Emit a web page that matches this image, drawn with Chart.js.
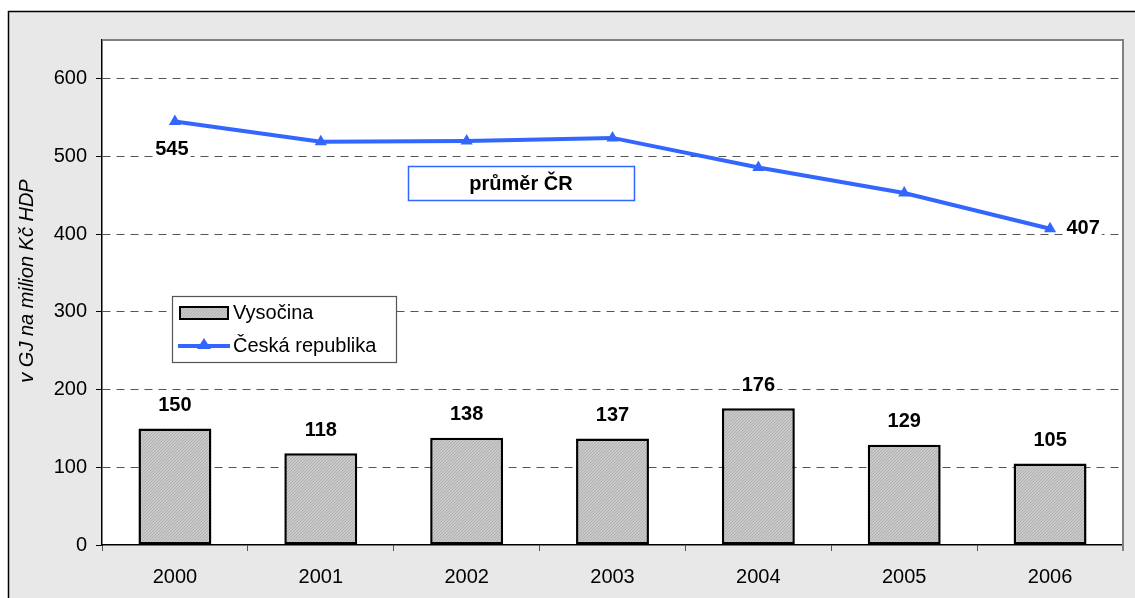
<!DOCTYPE html>
<html>
<head>
<meta charset="utf-8">
<script src="https://cdn.jsdelivr.net/npm/chart.js@4/dist/chart.umd.min.js"></script>
<style>
  html, body { margin: 0; padding: 0; background: #fff; }
  #wrap { width: 1135px; height: 598px; position: relative; }
</style>
</head>
<body>
<div id="wrap"><canvas id="chart"></canvas></div>
<script>
// Data
const years = ['2000', '2001', '2002', '2003', '2004', '2005', '2006'];
const vysocina = [150, 118, 138, 137, 176, 129, 105];
const ceskaRepublika = [545, 519, 520, 524, 486, 453, 407];
const yTicks = [0, 100, 200, 300, 400, 500, 600];
// only first and last point of the line carry a label
const lineLabelIdx = [0, 6];

const FONT = "'Liberation Sans', Arial, sans-serif";
const BLUE = '#3366ff';

// hatched grey fill for bars
function makePattern() {
  const p = document.createElement('canvas');
  p.width = 3; p.height = 3;
  const c = p.getContext('2d');
  c.fillStyle = '#c9c9c9';
  c.fillRect(0, 0, 3, 3);
  c.fillStyle = '#b0b0b0';
  for (let i = 0; i < 3; i++) c.fillRect(i, 2 - i, 1, 1);
  return c.createPattern(p, 'repeat');
}

// label with white background
function boxLabel(c, text, x, y) {
  c.font = 'bold 20px ' + FONT;
  const w = c.measureText(text).width;
  c.fillStyle = '#fff';
  c.fillRect(x - w / 2 - 2, y - 11, w + 4, 22);
  c.fillStyle = '#000';
  c.textAlign = 'center';
  c.textBaseline = 'middle';
  c.fillText(text, x, y);
}

const framePlugin = {
  id: 'frame',
  beforeDraw(chart) {
    const c = chart.ctx;
    const a = chart.chartArea;
    c.save();
    c.fillStyle = '#fff';
    c.fillRect(0, 0, chart.width, chart.height);
    c.fillStyle = '#e8e8e8';
    c.fillRect(8, 11, chart.width, chart.height);
    c.strokeStyle = '#000';
    c.lineWidth = 1.5;
    c.strokeRect(8.5, 11.5, chart.width + 10, chart.height + 10);
    c.fillStyle = '#fff';
    c.fillRect(a.left, a.top, a.right - a.left, a.bottom - a.top);
    // axis title
    c.translate(27, 281);
    c.rotate(-Math.PI / 2);
    c.font = 'italic 20px ' + FONT;
    c.fillStyle = '#000';
    c.textAlign = 'center';
    c.textBaseline = 'middle';
    c.fillText('v GJ na milion Kč HDP', 0, 0);
    c.restore();
  },
  beforeDatasetsDraw(chart) {
    const c = chart.ctx;
    const a = chart.chartArea;
    c.save();
    c.strokeStyle = '#808080';
    c.lineWidth = 2;
    c.beginPath();
    c.moveTo(a.left, a.top);
    c.lineTo(a.right, a.top);
    c.lineTo(a.right, a.bottom + 6);
    c.stroke();
    c.restore();
  },
  afterDatasetsDraw(chart) {
    const c = chart.ctx;
    c.save();
    const bars = chart.getDatasetMeta(0).data;
    bars.forEach((b, i) => boxLabel(c, String(vysocina[i]), b.x, b.y - 23));
    const pts = chart.getDatasetMeta(1).data;
    boxLabel(c, String(ceskaRepublika[lineLabelIdx[0]]), pts[lineLabelIdx[0]].x - 3, pts[lineLabelIdx[0]].y + 28);
    boxLabel(c, String(ceskaRepublika[lineLabelIdx[1]]), pts[lineLabelIdx[1]].x + 33, pts[lineLabelIdx[1]].y);
    c.restore();
  },
  afterDraw(chart) {
    const c = chart.ctx;
    c.save();
    // "průměr ČR" note
    c.fillStyle = '#fff';
    c.fillRect(408, 166, 226, 34);
    c.strokeStyle = BLUE;
    c.lineWidth = 1.5;
    c.strokeRect(408.5, 166.5, 226, 34);
    c.fillStyle = '#000';
    c.font = 'bold 20px ' + FONT;
    c.textAlign = 'center';
    c.textBaseline = 'middle';
    c.fillText('průměr ČR', 521, 184);

    // legend
    c.fillStyle = '#fff';
    c.fillRect(172, 296, 224, 66);
    c.strokeStyle = '#555';
    c.lineWidth = 1.2;
    c.strokeRect(172.5, 296.5, 224, 66);
    c.fillStyle = chart.data.datasets[0].backgroundColor;
    c.fillRect(180, 307, 48, 12);
    c.strokeStyle = '#000';
    c.lineWidth = 2;
    c.strokeRect(180, 307, 48, 12);
    c.strokeStyle = BLUE;
    c.lineWidth = 4;
    c.beginPath();
    c.moveTo(178, 346);
    c.lineTo(230, 346);
    c.stroke();
    c.fillStyle = BLUE;
    c.beginPath();
    c.moveTo(204, 338);
    c.lineTo(211, 349);
    c.lineTo(197, 349);
    c.closePath();
    c.fill();
    c.fillStyle = '#000';
    c.font = '20px ' + FONT;
    c.textAlign = 'left';
    c.textBaseline = 'middle';
    c.fillText(chart.data.datasets[0].label, 233, 313);
    c.fillText(chart.data.datasets[1].label, 233, 346);
    c.restore();
  }
};

const ctx = document.getElementById('chart').getContext('2d');
new Chart(ctx, {
  type: 'bar',
  data: {
    labels: years,
    datasets: [
      {
        type: 'bar',
        label: 'Vysočina',
        data: vysocina,
        backgroundColor: makePattern(),
        borderColor: '#000',
        borderWidth: 2.5,
        borderSkipped: false,
        barPercentage: 0.5,
        categoryPercentage: 1,
        order: 2
      },
      {
        type: 'line',
        label: 'Česká republika',
        data: ceskaRepublika,
        borderColor: BLUE,
        backgroundColor: BLUE,
        borderWidth: 4,
        pointStyle: 'triangle',
        pointRadius: 7,
        pointBorderWidth: 0,
        pointBackgroundColor: BLUE,
        tension: 0,
        order: 1
      }
    ]
  },
  options: {
    responsive: true,
    maintainAspectRatio: false,
    animation: false,
    layout: { padding: { left: 8, top: 40, right: 12, bottom: 0 } },
    plugins: {
      legend: { display: false },
      tooltip: { enabled: false }
    },
    scales: {
      x: {
        offset: true,
        grid: {
          drawOnChartArea: false,
          tickLength: 6,
          tickColor: '#555',
          offset: true
        },
        border: { color: '#000', width: 1.5 },
        ticks: { color: '#000', font: { family: FONT, size: 20 }, padding: 14 },
        afterFit(scale) { scale.height = 53; }
      },
      y: {
        min: 0,
        max: 650,
        afterBuildTicks(scale) {
          scale.ticks = yTicks.map(v => ({ value: v }));
        },
        grid: {
          color: ctx => (ctx.tick && ctx.tick.value === 0 ? 'transparent' : '#555'),
          tickBorderDash: [],
          tickColor: '#000',
          tickLength: 6,
          lineWidth: 1
        },
        border: { color: '#000', width: 1.5, dash: [8, 6] },
        ticks: { color: '#000', font: { family: FONT, size: 20 }, padding: 9 },
        afterFit(scale) { scale.width = 94; }
      }
    }
  },
  plugins: [framePlugin]
});
</script>
</body>
</html>
